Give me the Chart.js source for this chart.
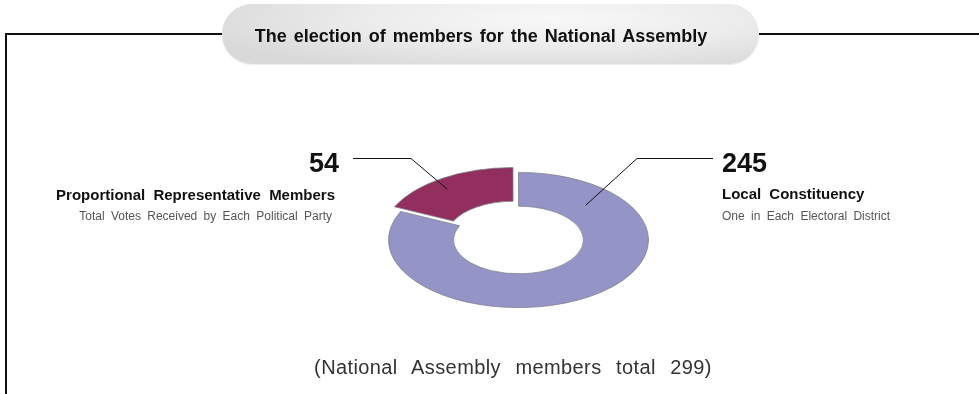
<!DOCTYPE html>
<html>
<head>
<meta charset="utf-8">
<script src="https://cdn.jsdelivr.net/npm/chart.js@4"></script>
<style>
  html, body { margin: 0; padding: 0; background: #fff; }
  #wrap { position: relative; width: 979px; height: 394px; overflow: hidden; font-family: "Liberation Sans", Arial, sans-serif; }
  #chartCanvas { position: absolute; left: 0; top: 0; }
  .line { position: absolute; background: #111; }
  .pill {
    position: absolute; left: 222px; top: 4px; width: 537px; height: 60px; border-radius: 30px;
    background: radial-gradient(ellipse 70% 90% at 62% 25%, #f8f8f8 0%, #ececec 50%, #d9d9d9 100%);
    box-shadow: 0 1px 1px rgba(0,0,0,0.08);
  }
  .txt { position: absolute; line-height: 1; white-space: nowrap; color: #111; }
  .title { font-weight: bold; font-size: 18px; word-spacing: 2px; }
  .big { font-weight: bold; font-size: 27px; }
  .name { font-weight: bold; font-size: 15px; word-spacing: 4px; }
  .sub { font-size: 12px; color: #555; word-spacing: 3px; }
  .note { font-size: 20px; color: #333; word-spacing: 8.5px; letter-spacing: 0.4px; }
</style>
</head>
<body>
<div id="wrap">
  <canvas id="chartCanvas" width="979" height="394"></canvas>
  <div class="line" style="left:5px; top:33px; width:217px; height:2px;"></div>
  <div class="line" style="left:759px; top:33px; width:220px; height:2px;"></div>
  <div class="line" style="left:5px; top:33px; width:2px; height:361px;"></div>
  <div class="pill"></div>
  <div id="labels"></div>
</div>
<script>
// --- Data ---
const categories = ["Local Constituency", "Proportional Representative Members"];
const seats = [245, 54];
const subtitles = ["One in Each Electoral District", "Total Votes Received by Each Political Party"];
const titleText = "The election of members for the National Assembly";
const totalNote = "(National Assembly members total " + seats.reduce((a, b) => a + b, 0) + ")";

const sliceColors = ["#9494c6", "#922f5f"];
const squash = 0.52;   // vertical flattening of the ring

// --- Text (HTML overlay) ---
// baseline of Liberation Sans with line-height 1 sits at 0.8465em from top
function addText(cls, text, size, baseline, opts) {
    const el = document.createElement("div");
    el.className = "txt " + cls;
    el.textContent = text;
    el.style.top = (baseline - 0.8465 * size) + "px";
    if (opts.left !== undefined) el.style.left = opts.left + "px";
    if (opts.right !== undefined) el.style.right = (979 - opts.right) + "px";
    if (opts.center !== undefined) { el.style.left = opts.center + "px"; el.style.transform = "translateX(-50%)"; }
    document.getElementById("labels").appendChild(el);
}

addText("title", titleText, 18, 42, { center: 481 });
addText("big", String(seats[1]), 27, 173, { right: 339 });
addText("name", categories[1], 15, 200, { right: 335 });
addText("sub", subtitles[1], 12, 220, { right: 332 });
addText("big", String(seats[0]), 27, 173, { left: 722 });
addText("name", categories[0], 15, 199, { left: 722 });
addText("sub", subtitles[0], 12, 220, { left: 722 });
addText("note", totalNote, 20, 374, { center: 513 });

// --- Chart ---
const ctx = document.getElementById("chartCanvas").getContext("2d");

const flattenPlugin = {
    id: "flatten",
    beforeDatasetsDraw(chart) {
        const arc = chart.getDatasetMeta(0).data[0];
        const c = chart.ctx;
        c.save();
        c.translate(arc.x, arc.y);
        c.scale(1, squash);
        c.translate(-arc.x, -arc.y);
    },
    afterDatasetsDraw(chart) {
        chart.ctx.restore();
    }
};

// leader lines: anchor inside slice -> elbow -> horizontal end near the labels
const leaders = [
    { index: 0, angleFrac: 0.153, radius: 95, elbow: [637, 158], end: 713 },
    { index: 1, angleFrac: 0.44, radius: 111, elbow: [411, 158], end: 353 }
];

const leaderPlugin = {
    id: "leaders",
    afterDraw(chart) {
        const c = chart.ctx;
        const meta = chart.getDatasetMeta(0);
        c.save();
        c.strokeStyle = "#111";
        c.lineWidth = 1;
        leaders.forEach(l => {
            const arc = meta.data[l.index];
            const a = arc.startAngle + (arc.endAngle - arc.startAngle) * l.angleFrac;
            const mid = (arc.startAngle + arc.endAngle) / 2;
            const off = (arc.options.offset || 0) / 4;   // Chart.js draws offset / 4
            const px = arc.x + Math.cos(a) * l.radius + Math.cos(mid) * off;
            const py = arc.y + (Math.sin(a) * l.radius + Math.sin(mid) * off) * squash;
            c.beginPath();
            c.moveTo(px, py);
            c.lineTo(l.elbow[0], l.elbow[1] + 0.5);
            c.lineTo(l.end, l.elbow[1] + 0.5);
            c.stroke();
        });
        c.restore();
    }
};

new Chart(ctx, {
    type: "doughnut",
    data: {
        labels: categories,
        datasets: [{
            data: seats,
            backgroundColor: sliceColors,
            borderColor: "#7d7d8a",
            borderWidth: 1,
            offset: [0, 40],
            hoverOffset: 0
        }]
    },
    options: {
        responsive: false,
        devicePixelRatio: 1,
        animation: false,
        radius: 130,
        cutout: "50%",
        rotation: 0,
        layout: { padding: { left: 58, top: 86, right: 0, bottom: 0 } },
        plugins: {
            legend: { display: false },
            tooltip: { enabled: false }
        }
    },
    plugins: [flattenPlugin, leaderPlugin]
});
</script>
</body>
</html>
